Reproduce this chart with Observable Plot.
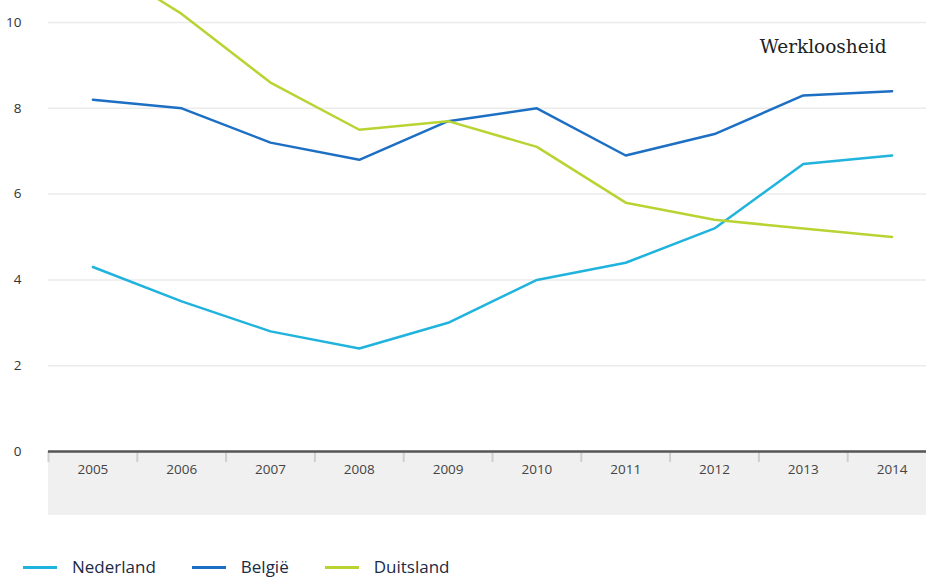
<!DOCTYPE html>
<html>
<head>
<meta charset="utf-8">
<script src="https://cdn.jsdelivr.net/npm/d3@7"></script>
<script src="https://cdn.jsdelivr.net/npm/@observablehq/plot@0.6"></script>
<style>
  html, body { margin: 0; padding: 0; background: white; overflow: hidden; }
  #wrap { position: relative; width: 926px; }
  #band { position: absolute; left: 48px; top: 452px; width: 878px; height: 63px; background: #f0f0f0; }
  #chart { position: relative; }
  #legend { display: flex; align-items: center; padding-left: 23px; margin-top: 36px;
    font-family: "Open Sans", sans-serif; font-size: 17px; color: #1b2a45; line-height: 22px; }
  .item { display: flex; align-items: center; margin-right: 36px; }
  .sw { width: 34px; height: 3px; margin-right: 15px; }
</style>
</head>
<body>
<div id="wrap">
  <div id="band"></div>
  <div id="chart"></div>
</div>
<div id="legend"></div>
<script>
const years = [2005, 2006, 2007, 2008, 2009, 2010, 2011, 2012, 2013, 2014];
const nederland = [4.3, 3.5, 2.8, 2.4, 3.0, 4.0, 4.4, 5.2, 6.7, 6.9];
const belgie    = [8.2, 8.0, 7.2, 6.8, 7.7, 8.0, 6.9, 7.4, 8.3, 8.4];
const duitsland = [11.5, 10.2, 8.6, 7.5, 7.7, 7.1, 5.8, 5.4, 5.2, 5.0];
const seriesNames = ["Nederland", "België", "Duitsland"];
const seriesColors = ["#20b3dd", "#1d6fc4", "#b8d432"];
const yTicks = [0, 2, 4, 6, 8, 10];
const title = "Werkloosheid";

const seriesValues = [nederland, belgie, duitsland];
const data = seriesNames.flatMap((name, i) =>
  years.map((year, j) => ({ name, year, value: seriesValues[i][j] })));

const W = 926, H = 520, mL = 48, mB = 69;
const xRange = [48, 936];
const yTop = 10 * (H - mB) / (H - mB - 22);
const boundaries = years.map(y => y - 0.5);

const chart = Plot.plot({
  width: W, height: H,
  marginLeft: mL, marginRight: 0, marginTop: 0, marginBottom: mB,
  style: { background: "transparent", fontFamily: "Open Sans, sans-serif", fontSize: "13.5px", color: "#333" },
  x: { type: "linear", domain: [years[0] - 0.5, years[years.length - 1] + 0.5], range: xRange },
  y: { domain: [0, yTop] },
  color: { domain: seriesNames, range: seriesColors },
  marks: [
    Plot.ruleY(yTicks.filter(d => d > 0), { stroke: "#ebebeb", strokeWidth: 1.5 }),
    Plot.axisY({ ticks: yTicks, tickSize: 0, dx: -18, fill: "#333", label: null, tickFormat: d => String(d) }),
    Plot.axisX({ ticks: boundaries, tickSize: 11, text: null, stroke: "#cfcfcf", strokeWidth: 2, label: null }),
    Plot.axisX({ ticks: years, tickSize: 0, tickPadding: 13, fill: "#444", label: null, tickFormat: d => String(d) }),
    Plot.line(data, { x: "year", y: "value", z: "name", stroke: "name", strokeWidth: 2.5, clip: true }),
    Plot.ruleY([0], { stroke: "#555", strokeWidth: 2.5 }),
    Plot.text([title], { frameAnchor: "top-right", textAnchor: "end", dx: -40, dy: 47, lineAnchor: "middle",
      fontFamily: "DejaVu Serif, serif", fontSize: 18.5, fill: "#222" })
  ]
});
document.getElementById("chart").appendChild(chart);

const legend = document.getElementById("legend");
seriesNames.forEach((name, i) => {
  const item = document.createElement("div");
  item.className = "item";
  const sw = document.createElement("div");
  sw.className = "sw";
  sw.style.background = seriesColors[i];
  const label = document.createElement("span");
  label.textContent = name;
  item.appendChild(sw);
  item.appendChild(label);
  legend.appendChild(item);
});
</script>
</body>
</html>
